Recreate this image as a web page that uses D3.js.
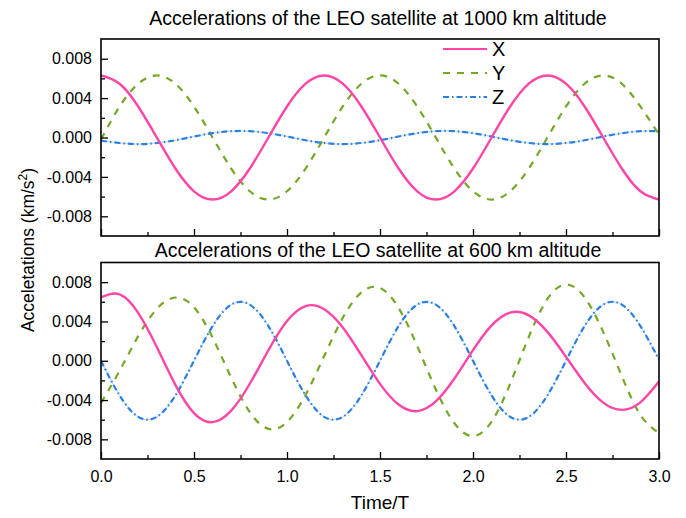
<!DOCTYPE html>
<html>
<head>
<meta charset="utf-8">
<script src="https://cdn.jsdelivr.net/npm/d3@7"></script>
<style>
  body { margin: 0; background: #fff; }
  text { font-family: "Liberation Sans", Arial, sans-serif; fill: #000; }
</style>
</head>
<body>
<div id="chart"></div>
<script>
// time in orbital periods
const time = [0.0, 0.1, 0.2, 0.3, 0.4, 0.5, 0.6, 0.7, 0.8, 0.9, 1.0,
  1.1, 1.2, 1.3, 1.4, 1.5, 1.6, 1.7, 1.8, 1.9, 2.0,
  2.1, 2.2, 2.3, 2.4, 2.5, 2.6, 2.7, 2.8, 2.9, 3.0];

// 1000 km altitude (km/s^2)
const x1000 = [0.00630, 0.00546, 0.00315, 0.00000, -0.00315, -0.00546, -0.00630, -0.00546, -0.00315, 0.00000, 0.00315,
  0.00546, 0.00630, 0.00546, 0.00315, 0.00000, -0.00315, -0.00546, -0.00630, -0.00546, -0.00315,
  0.00000, 0.00315, 0.00546, 0.00630, 0.00546, 0.00315, 0.00000, -0.00315, -0.00546, -0.00630];
const y1000 = [-0.00020, 0.00315, 0.00546, 0.00630, 0.00546, 0.00315, 0.00000, -0.00315, -0.00546, -0.00630, -0.00546,
  -0.00315, 0.00000, 0.00315, 0.00546, 0.00630, 0.00546, 0.00315, 0.00000, -0.00315, -0.00546,
  -0.00630, -0.00546, -0.00315, 0.00000, 0.00315, 0.00546, 0.00630, 0.00546, 0.00315, 0.00030];
const z1000 = [-0.00033, -0.00056, -0.00067, -0.00056, -0.00028, 0.00010, 0.00044, 0.00064, 0.00064, 0.00044, 0.00010,
  -0.00028, -0.00056, -0.00067, -0.00056, -0.00028, 0.00010, 0.00044, 0.00064, 0.00064, 0.00044,
  0.00010, -0.00028, -0.00056, -0.00067, -0.00056, -0.00028, 0.00010, 0.00044, 0.00064, 0.00064];

// 600 km altitude (km/s^2)
const x600 = [0.00645, 0.00676, 0.00487, 0.00139, -0.00245, -0.00533, -0.00625, -0.00508, -0.00234, 0.00107, 0.00404,
  0.00557, 0.00525, 0.00339, 0.00056, -0.00235, -0.00446, -0.00513, -0.00414, -0.00181, 0.00108,
  0.00360, 0.00490, 0.00462, 0.00294, 0.00040, -0.00226, -0.00426, -0.00500, -0.00423, -0.00212];
const y600 = [-0.00430, -0.00102, 0.00251, 0.00527, 0.00644, 0.00544, 0.00235, -0.00171, -0.00523, -0.00693, -0.00623,
  -0.00347, 0.00048, 0.00437, 0.00696, 0.00741, 0.00538, 0.00150, -0.00292, -0.00636, -0.00766,
  -0.00619, -0.00233, 0.00243, 0.00629, 0.00776, 0.00644, 0.00294, -0.00156, -0.00551, -0.00735];
const z600 = [0.00000, -0.00353, -0.00571, -0.00571, -0.00353, 0.00000, 0.00353, 0.00571, 0.00571, 0.00353, 0.00000,
  -0.00353, -0.00571, -0.00571, -0.00353, 0.00000, 0.00353, 0.00571, 0.00571, 0.00353, 0.00000,
  -0.00353, -0.00571, -0.00571, -0.00353, 0.00000, 0.00353, 0.00571, 0.00571, 0.00353, 0.00010];

const seriesNames = ["X", "Y", "Z"];
const titles = ["Accelerations of the LEO satellite at 1000 km altitude",
  "Accelerations of the LEO satellite at 600 km altitude"];
const xTicks = [0, 0.5, 1.0, 1.5, 2.0, 2.5, 3.0];
const xTickLabels = ["0.0", "0.5", "1.0", "1.5", "2.0", "2.5", "3.0"];
const xMinorTicks = [0.25, 0.75, 1.25, 1.75, 2.25, 2.75];
const yTicks = [-0.008, -0.004, 0, 0.004, 0.008];
const yTickLabels = ["-0.008", "-0.004", "0.000", "0.004", "0.008"];
const yMinorTicks = [-0.006, -0.002, 0.002, 0.006];

const colors = ["#ff45a6", "#74a826", "#2a7fe0"];
const dashes = [null, "7,7", "6,3,1.5,3"];

var width = 686, height = 518;
var left = 101, right = 659;
var panels = [
  { top: 39, bottom: 236, titleY: 25, data: [x1000, y1000, z1000], labels: false },
  { top: 262.5, bottom: 459, titleY: 257, data: [x600, y600, z600], labels: true }
];

var svg = d3.select("#chart").append("svg")
  .attr("width", width)
  .attr("height", height);

var x = d3.scaleLinear().domain([0, 3]).range([left, right]);

panels.forEach(function (p, i) {
  var y = d3.scaleLinear().domain([-0.01, 0.01]).range([p.bottom, p.top]);
  var g = svg.append("g");

  //title
  g.append("text")
    .attr("x", (left + right) / 2 - 2)
    .attr("y", p.titleY)
    .attr("text-anchor", "middle")
    .style("font-size", "19.5px")
    .text(titles[i]);

  var clipId = "clip" + i;
  svg.append("clipPath").attr("id", clipId)
    .append("rect")
    .attr("x", left).attr("y", p.top)
    .attr("width", right - left).attr("height", p.bottom - p.top);

  var line = d3.line()
    .x(function (d, k) { return x(time[k]); })
    .y(function (d) { return y(d); })
    .curve(d3.curveNatural);

  var lines = g.append("g").attr("clip-path", "url(#" + clipId + ")");
  // faint under-line for the dash-dot Z curve
  lines.append("path")
    .datum(p.data[2])
    .attr("d", line)
    .attr("fill", "none")
    .attr("stroke", "#b5d4f7")
    .attr("stroke-width", 1);
  [1, 2, 0].forEach(function (s) {
    lines.append("path")
      .datum(p.data[s])
      .attr("d", line)
      .attr("fill", "none")
      .attr("stroke", colors[s])
      .attr("stroke-width", s == 0 ? 2.4 : 2.2)
      .attr("stroke-dasharray", dashes[s]);
  });

  // y axis, ticks inside
  var yAxis = d3.axisLeft(y)
    .tickValues(yTicks)
    .tickFormat(function (d, k) { return yTickLabels[k]; })
    .tickSize(-7)
    .tickPadding(9);
  var ya = g.append("g").attr("transform", "translate(" + left + ",0)").call(yAxis);
  ya.select(".domain").remove();
  ya.selectAll("text").style("font-size", "16px").style("font-family", "Liberation Sans, Arial, sans-serif");
  ya.selectAll("line").attr("stroke-width", 1.3);
  g.append("g").attr("transform", "translate(" + left + ",0)")
    .call(d3.axisLeft(y).tickValues(yMinorTicks).tickFormat("").tickSize(-4))
    .call(function (a) { a.select(".domain").remove(); a.selectAll("line").attr("stroke-width", 1.3); });

  // x axis
  var xAxis = d3.axisBottom(x)
    .tickValues(xTicks)
    .tickFormat(function (d, k) { return p.labels ? xTickLabels[k] : ""; })
    .tickSize(-7)
    .tickPadding(12);
  var xa = g.append("g").attr("transform", "translate(0," + p.bottom + ")").call(xAxis);
  xa.select(".domain").remove();
  xa.selectAll("text").style("font-size", "16px").style("font-family", "Liberation Sans, Arial, sans-serif");
  xa.selectAll("line").attr("stroke-width", 1.3);
  g.append("g").attr("transform", "translate(0," + p.bottom + ")")
    .call(d3.axisBottom(x).tickValues(xMinorTicks).tickFormat("").tickSize(-4))
    .call(function (a) { a.select(".domain").remove(); a.selectAll("line").attr("stroke-width", 1.3); });

  // frame
  g.append("rect")
    .attr("x", left).attr("y", p.top)
    .attr("width", right - left).attr("height", p.bottom - p.top)
    .attr("fill", "none")
    .attr("stroke", "#000")
    .attr("stroke-width", 1.6);

  // legend in top panel
  if (i == 0) {
    seriesNames.forEach(function (name, s) {
      var ly = 49 + s * 24;
      g.append("line")
        .attr("x1", 443).attr("x2", 487)
        .attr("y1", ly).attr("y2", ly)
        .attr("stroke", colors[s])
        .attr("stroke-width", 2.2)
        .attr("stroke-dasharray", dashes[s]);
      g.append("text")
        .attr("x", 492).attr("y", ly + 7)
        .style("font-size", "20px")
        .text(name);
    });
  }
});

// axis titles
svg.append("text")
  .attr("x", (left + right) / 2)
  .attr("y", 509)
  .attr("text-anchor", "middle")
  .style("font-size", "19px")
  .text("Time/T");

var yl = svg.append("text")
  .attr("transform", "translate(34,250) rotate(-90)")
  .attr("text-anchor", "middle")
  .style("font-size", "17.5px");
yl.append("tspan").text("Acceletations (km/s");
yl.append("tspan").attr("baseline-shift", "super").style("font-size", "12px").text("2");
yl.append("tspan").text(")");
</script>
</body>
</html>
